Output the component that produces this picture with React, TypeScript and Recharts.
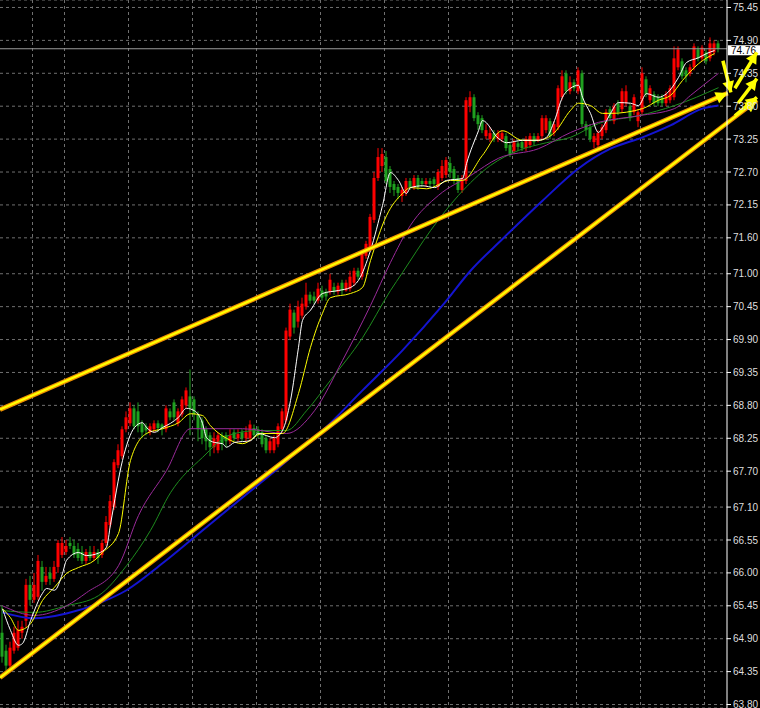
import { Bar, CartesianGrid, ComposedChart, Line, ReferenceLine, XAxis, YAxis } from "recharts";

// OHLC, one entry per candle (oldest first)
const OPEN = [
  65.0, 64.7, 64.45, 64.7, 64.75, 65.0, 65.2, 65.8, 65.55, 65.6, 66.1, 65.85, 66.0, 65.9, 66.1, 66.3, 66.35, 66.5, 66.45, 66.4,
  66.35, 66.2, 66.35, 66.25, 66.35, 66.3, 66.5, 66.8, 67.1, 67.8, 67.95, 68.4, 68.5, 68.75, 68.7, 68.5, 68.45, 68.35, 68.4, 68.5,
  68.48, 68.4, 68.7, 68.85, 68.5, 68.65, 68.8, 68.95, 68.9, 68.65, 68.55, 68.4, 68.3, 68.1, 68.05, 68.3, 68.3, 68.2, 68.35, 68.25,
  68.35, 68.25, 68.25, 68.42, 68.4, 68.35, 68.25, 68.05, 68.05, 68.15, 68.4, 68.55, 69.95, 70.35, 70.2, 70.3, 70.45, 70.65, 70.62, 70.55,
  70.72, 70.7, 70.7, 70.78, 70.7, 70.85, 70.72, 70.75, 70.85, 71.05, 70.95, 71.3, 71.45, 71.9, 72.6, 72.8, 72.95, 72.75, 72.5, 72.45,
  72.3, 72.35, 72.55, 72.45, 72.6, 72.55, 72.5, 72.55, 72.58, 72.45, 72.6, 72.65, 72.85, 72.75, 72.6, 72.4, 72.55, 73.8, 73.95, 73.65,
  73.6, 73.3, 73.25, 73.35, 73.25, 73.25, 73.3, 73.15, 73.05, 73.18, 73.2, 73.1, 73.15, 73.3, 73.22, 73.3, 73.4, 73.55, 73.35, 73.45,
  73.95, 74.35, 74.05, 74.2, 74.05, 74.35, 73.5, 73.45, 73.2, 73.15, 73.3, 73.4, 73.75, 73.55, 73.85, 73.75, 73.85, 73.8, 73.7, 73.55,
  73.7, 74.25, 73.9, 74.0, 73.95, 73.95, 73.85, 73.9, 73.95, 74.45, 74.55, 74.4, 74.35, 74.45, 74.75, 74.6, 74.7, 74.6, 74.7, 74.85,
];
const HIGH = [
  65.45, 64.8, 64.85, 65.1, 65.2, 65.2, 65.9, 65.95, 66.0, 66.3, 66.2, 66.1, 66.1, 66.2, 66.55, 66.6, 66.55, 66.6, 66.55, 66.5,
  66.45, 66.4, 66.45, 66.45, 66.4, 66.55, 66.95, 67.3, 67.9, 68.15, 68.45, 68.7, 68.85, 68.8, 68.85, 68.55, 68.5, 68.5, 68.55, 68.55,
  68.5, 68.8, 68.75, 68.9, 68.75, 68.95, 69.1, 69.4, 68.95, 68.7, 68.6, 68.45, 68.35, 68.35, 68.35, 68.35, 68.35, 68.4, 68.4, 68.4,
  68.4, 68.45, 68.55, 68.48, 68.45, 68.4, 68.3, 68.25, 68.3, 68.5, 68.75, 70.1, 70.5, 70.4, 70.55, 70.6, 70.85, 70.7, 70.7, 70.85,
  70.8, 70.75, 71.0, 70.85, 70.85, 70.9, 70.9, 71.05, 71.1, 71.1, 71.4, 71.55, 72.0, 72.7, 73.1, 73.1, 73.05, 72.8, 72.55, 72.5,
  72.45, 72.6, 72.6, 72.65, 72.65, 72.6, 72.6, 72.6, 72.62, 72.75, 72.9, 72.95, 72.95, 72.8, 72.65, 72.65, 73.95, 74.05, 74.0, 73.7,
  73.65, 73.5, 73.45, 73.4, 73.4, 73.4, 73.35, 73.2, 73.25, 73.22, 73.25, 73.3, 73.35, 73.35, 73.35, 73.65, 73.65, 73.6, 73.55, 74.15,
  74.4, 74.4, 74.3, 74.25, 74.45, 74.4, 73.55, 73.5, 73.35, 73.4, 73.5, 73.75, 73.8, 73.85, 73.9, 74.1, 74.15, 73.85, 74.0, 73.75,
  74.45, 74.3, 74.15, 74.05, 74.0, 74.0, 74.05, 74.15, 74.8, 74.8, 74.6, 74.45, 74.5, 74.85, 74.8, 74.82, 74.75, 74.95, 74.9, 74.9,
];
const LOW = [
  64.5, 64.37, 64.4, 64.65, 64.7, 64.9, 65.1, 65.45, 65.5, 65.55, 65.7, 65.8, 65.8, 65.85, 66.0, 66.25, 66.3, 66.4, 66.25, 66.2,
  66.15, 66.15, 66.2, 66.2, 66.15, 66.25, 66.45, 66.75, 67.05, 67.75, 67.9, 68.35, 68.45, 68.4, 68.35, 68.25, 68.3, 68.3, 68.35, 68.35,
  68.3, 68.35, 68.55, 68.55, 68.45, 68.6, 68.75, 68.3, 68.55, 68.2, 68.15, 68.05, 67.95, 68.0, 68.0, 68.05, 68.1, 68.15, 68.2, 68.2,
  68.2, 68.2, 68.2, 68.25, 68.25, 68.1, 68.0, 68.0, 68.0, 68.1, 68.35, 68.5, 69.9, 70.0, 70.1, 70.25, 70.4, 70.5, 70.5, 70.5,
  70.55, 70.55, 70.65, 70.65, 70.65, 70.65, 70.7, 70.7, 70.8, 70.9, 70.9, 71.25, 71.4, 71.85, 72.55, 72.7, 72.5, 72.35, 72.3, 72.25,
  72.2, 72.3, 72.4, 72.4, 72.4, 72.45, 72.45, 72.45, 72.45, 72.4, 72.55, 72.6, 72.6, 72.5, 72.35, 72.35, 72.5, 73.7, 73.55, 73.4,
  73.35, 73.25, 73.2, 73.2, 73.2, 73.2, 73.05, 72.95, 73.0, 73.05, 73.05, 73.05, 73.1, 73.15, 73.2, 73.25, 73.35, 73.25, 73.3, 73.4,
  73.9, 74.0, 74.0, 74.05, 74.0, 73.45, 73.3, 73.2, 73.1, 73.1, 73.25, 73.35, 73.55, 73.5, 73.65, 73.7, 73.8, 73.55, 73.65, 73.45,
  73.65, 73.95, 73.85, 73.8, 73.8, 73.8, 73.8, 73.85, 73.9, 74.4, 74.25, 74.2, 74.3, 74.4, 74.55, 74.55, 74.5, 74.55, 74.65, 74.7,
];
const CLOSE = [
  64.6, 64.45, 64.75, 65.0, 65.05, 65.1, 65.8, 65.55, 65.8, 66.2, 65.85, 65.95, 65.9, 66.1, 66.5, 66.5, 66.45, 66.45, 66.3, 66.25,
  66.2, 66.35, 66.25, 66.35, 66.25, 66.5, 66.85, 67.2, 67.85, 68.05, 68.4, 68.6, 68.75, 68.45, 68.45, 68.35, 68.38, 68.45, 68.5, 68.42,
  68.4, 68.75, 68.6, 68.6, 68.7, 68.9, 69.05, 68.75, 68.65, 68.4, 68.25, 68.2, 68.1, 68.25, 68.3, 68.15, 68.2, 68.3, 68.25, 68.32,
  68.25, 68.35, 68.48, 68.3, 68.3, 68.15, 68.05, 68.2, 68.25, 68.45, 68.7, 70.05, 70.4, 70.1, 70.45, 70.5, 70.65, 70.55, 70.55, 70.75,
  70.6, 70.62, 70.9, 70.7, 70.8, 70.72, 70.85, 70.95, 71.05, 70.95, 71.35, 71.5, 71.95, 72.6, 72.95, 73.0, 72.55, 72.45, 72.4, 72.35,
  72.4, 72.55, 72.45, 72.6, 72.45, 72.5, 72.55, 72.5, 72.5, 72.7, 72.8, 72.9, 72.7, 72.55, 72.4, 72.6, 73.9, 73.95, 73.6, 73.5,
  73.4, 73.4, 73.35, 73.25, 73.35, 73.35, 73.1, 73.0, 73.2, 73.12, 73.1, 73.25, 73.3, 73.2, 73.3, 73.6, 73.6, 73.3, 73.5, 74.1,
  74.3, 74.05, 74.2, 74.1, 74.4, 73.5, 73.4, 73.25, 73.3, 73.35, 73.45, 73.7, 73.6, 73.8, 73.7, 74.05, 74.05, 73.6, 73.95, 73.7,
  74.35, 74.0, 74.1, 73.85, 73.85, 73.85, 74.0, 74.1, 74.6, 74.75, 74.3, 74.3, 74.45, 74.8, 74.6, 74.78, 74.55, 74.85, 74.85, 74.76,
];

// moving averages: [candle index, price]
const MA_WHITE = [
  [0, 65.4], [2, 65.04], [4, 64.79], [5, 64.82], [7, 65.2], [10, 65.66], [11, 65.74], [13, 65.71], [15, 65.99], [16, 66.21],
  [19, 66.34], [21, 66.29], [24, 66.33], [26, 66.43], [27, 66.81], [30, 67.88], [33, 68.43], [35, 68.51], [36, 68.43], [38, 68.35],
  [40, 68.43], [42, 68.5], [44, 68.6], [46, 68.75], [48, 68.71], [50, 68.5], [51, 68.26], [53, 68.18], [55, 68.16], [56, 68.1],
  [58, 68.18], [62, 68.21], [64, 68.33], [68, 68.26], [70, 68.38], [72, 68.88], [74, 69.77], [75, 70.22], [77, 70.39], [80, 70.67],
  [84, 70.72], [87, 70.77], [89, 70.89], [92, 71.39], [95, 72.14], [97, 72.69], [99, 72.56], [101, 72.34], [102, 72.44], [105, 72.47],
  [108, 72.44], [111, 72.56], [115, 72.59], [116, 72.84], [119, 73.39], [120, 73.56], [124, 73.26], [126, 73.19], [130, 73.23], [134, 73.23],
  [136, 73.28], [138, 73.56], [140, 73.95], [142, 74.1], [144, 74.15], [145, 73.95], [147, 73.68], [149, 73.36], [150, 73.44], [152, 73.68],
  [154, 73.86], [157, 73.85], [159, 73.81], [161, 74.01], [164, 73.95], [166, 74.01], [169, 74.28], [171, 74.53], [174, 74.61], [176, 74.68],
  [178, 74.73],
];
const MA_YELLOW = [
  [0, 65.4], [2, 65.25], [4, 65.04], [7, 65.15], [10, 65.54], [13, 65.76], [16, 65.99], [19, 66.09], [23, 66.21], [25, 66.34],
  [29, 66.66], [32, 67.88], [36, 68.33], [40, 68.41], [44, 68.51], [47, 68.66], [50, 68.63], [52, 68.46], [56, 68.25], [60, 68.16],
  [65, 68.33], [70, 68.33], [74, 69.0], [77, 69.77], [80, 70.34], [82, 70.6], [87, 70.67], [90, 70.77], [92, 71.22], [96, 71.97],
  [100, 72.34], [102, 72.44], [106, 72.42], [112, 72.56], [115, 72.56], [120, 72.98], [125, 73.39], [130, 73.23], [134, 73.23], [138, 73.36],
  [142, 73.73], [144, 73.85], [147, 73.81], [150, 73.68], [152, 73.68], [160, 73.76], [164, 73.9], [167, 73.98], [170, 74.23], [174, 74.51],
  [178, 74.68],
];
const MA_PURPLE = [
  [0, 65.45], [8, 65.29], [16, 65.45], [21, 65.67], [29, 66.12], [34, 66.96], [41, 67.71], [47, 68.41], [60, 68.41], [71, 68.33],
  [78, 68.71], [85, 69.55], [92, 70.47], [97, 71.19], [102, 71.81], [109, 72.31], [117, 72.64], [124, 72.93], [134, 73.09], [142, 73.36],
  [149, 73.53], [159, 73.64], [168, 73.76], [172, 73.98], [179, 74.35],
];
const MA_GREEN = [
  [0, 65.37], [8, 65.34], [16, 65.45], [24, 65.62], [31, 66.12], [37, 66.71], [42, 67.34], [50, 67.93], [57, 68.31], [64, 68.38],
  [71, 68.38], [76, 68.71], [82, 69.22], [90, 69.93], [97, 70.72], [100, 71.02], [107, 71.72], [114, 72.31], [122, 72.81], [129, 73.06],
  [136, 73.19], [142, 73.28], [149, 73.51], [159, 73.64], [168, 73.81], [179, 74.11],
];
const MA_BLUE = [
  [0, 65.34], [8, 65.24], [16, 65.32], [24, 65.49], [31, 65.71], [40, 66.16], [50, 66.71], [60, 67.26], [67, 67.64], [75, 68.1],
  [80, 68.38], [90, 69.05], [100, 69.72], [110, 70.47], [117, 71.05], [125, 71.58], [135, 72.22], [144, 72.76], [152, 73.09], [160, 73.28],
  [167, 73.48], [175, 73.76], [179, 73.81],
];

const PRICE_TICKS = [
  75.45, 74.9, 74.35, 73.8, 73.25, 72.7, 72.15, 71.6, 71.0, 70.45, 69.9,
  69.35, 68.8, 68.25, 67.7, 67.1, 66.55, 66.0, 65.45, 64.9, 64.35, 63.8,
];
const GRID_X = [
  -0.5, 7.5, 15.5, 23.5, 31.5, 39.5, 47.5, 55.5, 63.5, 71.5, 79.5, 87.5,
  95.5, 103.5, 111.5, 119.5, 127.5, 135.5, 143.5, 151.5, 159.5, 167.5, 175.5,
];
const LAST_PRICE = 74.76;

// hand drawn objects: [index, price] end points
const TREND_UPPER = [[-0.625, 68.73], [181.3, 74.02]];
const TREND_LOWER = [[-0.625, 64.25], [188.6, 73.9]];
const ARROWS = [
  [[180.1, 74.56], [182.1, 74.03]],
  [[183.1, 74.1], [188.6, 74.7]],
  [[183.9, 73.85], [188.6, 74.26]],
  [[183.1, 73.64], [188.6, 73.95]],
];

const RED = "#ff0000";
const GREEN = "#1fa01f";
const YELLOW = "#ffff00";
const ORANGE = "#f09000";

const candles = OPEN.map((o, i) => ({ i, o, h: HIGH[i], l: LOW[i], c: CLOSE[i] }));
const toRows = (pts: number[][]) => pts.map(([i, v]) => ({ i, v }));

const Candle = (props: any) => {
  const { x, y, width, height, payload } = props;
  if (height == null || isNaN(y)) return null;
  const { o, h, l, c } = payload;
  const color = c >= o ? RED : GREEN;
  const ppu = height / (h - l || 1);
  const top = y + (h - Math.max(o, c)) * ppu;
  const bh = Math.max(1, Math.abs(o - c) * ppu);
  return (
    <g>
      <rect x={x + width / 2 - 0.5} y={y} width={1} height={height} fill={color} />
      <rect x={x} y={top} width={width} height={bh} fill={color} />
    </g>
  );
};

const head = (x1: number, y1: number, x2: number, y2: number, len: number, half: number) => {
  const a = Math.atan2(y2 - y1, x2 - x1);
  const bx = x2 - len * Math.cos(a);
  const by = y2 - len * Math.sin(a);
  const sx = half * Math.sin(a);
  const sy = half * Math.cos(a);
  return `${x2},${y2} ${bx + sx},${by - sy} ${bx - sx},${by + sy}`;
};

const trendShape = (withHead: boolean) => (p: any) => {
  const { x1, y1, x2, y2 } = p;
  return (
    <g>
      <line x1={x1} y1={y1} x2={x2} y2={y2} stroke={ORANGE} strokeWidth={4.6} />
      <line x1={x1} y1={y1} x2={x2} y2={y2} stroke={YELLOW} strokeWidth={2.2} />
      {withHead && <polygon points={head(x1, y1, x2, y2, 12, 6)} fill={YELLOW} />}
    </g>
  );
};

const arrowShape = (p: any) => {
  const { x1, y1, x2, y2 } = p;
  return (
    <g>
      <line x1={x1} y1={y1} x2={x2} y2={y2} stroke={YELLOW} strokeWidth={3.5} />
      <polygon points={head(x1, y1, x2, y2, 11, 6)} fill={YELLOW} />
    </g>
  );
};

const PriceTag = (props: any) => {
  const vb = props.viewBox;
  if (!vb) return null;
  const x = vb.x + vb.width + 1;
  return (
    <g>
      <rect x={x} y={vb.y - 3.5} width={33} height={10} fill="#ffffff" />
      <text x={x + 3} y={vb.y + 5} fontSize={10} fontFamily="Liberation Sans, Arial" fill="#000">
        {LAST_PRICE.toFixed(2)}
      </text>
    </g>
  );
};

const seg = (s: number[][]) => [
  { x: s[0][0], y: s[0][1] },
  { x: s[1][0], y: s[1][1] },
];

const maProps = { type: "monotone" as const, dot: false, activeDot: false, isAnimationActive: false };

export default function App() {
  return (
    <div style={{ position: "absolute", left: 0, top: 0, width: 760, height: 708, background: "#000" }}>
      <ComposedChart width={760} height={708} data={candles} margin={{ top: 0, right: 0, bottom: 0, left: 0 }}>
        <XAxis dataKey="i" type="number" domain={[-0.625, 181.125]} allowDataOverflow hide />
        <YAxis
          type="number"
          orientation="right"
          domain={[63.742, 75.575]}
          allowDataOverflow
          ticks={PRICE_TICKS}
          interval={0}
          width={33}
          tickSize={4}
          tickMargin={2}
          axisLine={{ stroke: "#ffffff" }}
          tickLine={{ stroke: "#ffffff" }}
          tick={{ fill: "#dedede", fontSize: 10, fontFamily: "Liberation Sans, Arial" }}
          tickFormatter={(v: number) => v.toFixed(2)}
        />
        <CartesianGrid stroke="#707070" strokeDasharray="3 3" verticalValues={GRID_X} />
        <ReferenceLine y={LAST_PRICE} stroke="#9c9c9c" label={<PriceTag />} />
        <Bar dataKey={(d: any) => [d.l, d.h]} barSize={3} shape={Candle} activeBar={false} isAnimationActive={false} />
        <Line data={toRows(MA_BLUE)} dataKey="v" stroke="#1414d0" strokeWidth={2} {...maProps} />
        <Line data={toRows(MA_GREEN)} dataKey="v" stroke="#1e8c1e" strokeWidth={1} {...maProps} />
        <Line data={toRows(MA_PURPLE)} dataKey="v" stroke="#9a2a9a" strokeWidth={1} {...maProps} />
        <Line data={toRows(MA_YELLOW)} dataKey="v" stroke="#ffff00" strokeWidth={1} {...maProps} />
        <Line data={toRows(MA_WHITE)} dataKey="v" stroke="#ffffff" strokeWidth={1} {...maProps} />
        <ReferenceLine segment={seg(TREND_UPPER)} ifOverflow="visible" shape={trendShape(true)} />
        <ReferenceLine segment={seg(TREND_LOWER)} ifOverflow="visible" shape={trendShape(true)} />
        {ARROWS.map((a, k) => (
          <ReferenceLine key={k} segment={seg(a)} ifOverflow="visible" shape={arrowShape} />
        ))}
      </ComposedChart>
    </div>
  );
}
